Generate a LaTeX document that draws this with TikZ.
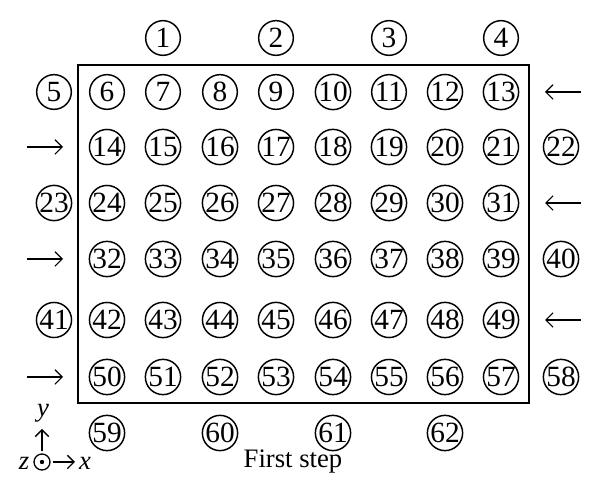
\documentclass[tikz,border=0pt]{standalone}
\usepackage{fontspec}
\setmainfont{Liberation Serif}
\usetikzlibrary{arrows.meta}

\tikzset{every picture/.style={line width=0.75pt}}
\tikzset{
  num/.style={draw, circle, line width=1.1pt, inner sep=0pt, minimum size=26pt, font=\fontsize{22}{22}\selectfont},
  flow/.style={line width=0.8pt, -{Straight Barb[length=5.5pt,width=11pt]}},
  axis/.style={line width=1pt, -{Straight Barb[length=5pt,width=10pt]}},
  lbl/.style={inner sep=0.75pt, font=\fontsize{20}{20}\selectfont}
}

\begin{document}
\begin{tikzpicture}[x=0.75pt,y=0.75pt,yscale=-1,xscale=1]
\useasboundingbox (0,0) rectangle (600,498);
%Shape: Rectangle [frame]
\draw [line width=1.3pt]  (78,65) -- (529,65) -- (529,403) -- (78,403) -- cycle ;

%Grid of points inside the frame
\foreach \y/\s [count=\r from 0] in {92/6,147/14,203/24,259/32,320/42,377/50} {
  \foreach \x [count=\c from 0] in {107,163,220,276,333,389,445,501} {
    \pgfmathtruncatemacro\k{\s+\c}
    \node [num] (n\k) at (\x,\y) {\k};
  }
}

%Points on the top side
\node [num] (n1) at (163,38) {1};
\node [num] (n2) at (276,38) {2};
\node [num] (n3) at (389,38) {3};
\node [num] (n4) at (501,38) {4};
%Points on the left side
\node [num] (n5) at (54,92) {5};
\node [num] (n23) at (54,203) {23};
\node [num] (n41) at (54,320) {41};
%Points on the right side
\node [num] (n22) at (561,147) {22};
\node [num] (n40) at (561,259) {40};
\node [num] (n58) at (561,377) {58};
%Points on the bottom side
\node [num] (n59) at (107,433) {59};
\node [num] (n60) at (220,433) {60};
\node [num] (n61) at (333,433) {61};
\node [num] (n62) at (445,433) {62};

%Straight Lines [sweep arrows, left]
\foreach \y [count=\i] in {147,259,377} {
  \coordinate (la\i) at (27,\y);
  \coordinate (lb\i) at (63,\y);
  \draw [flow] (la\i) -- (lb\i);
}
%Straight Lines [sweep arrows, right]
\foreach \y [count=\i] in {92,203,320} {
  \coordinate (ra\i) at (581,\y);
  \coordinate (rb\i) at (545,\y);
  \draw [flow] (ra\i) -- (rb\i);
}

%Axes
\coordinate (o) at (42,462);
\coordinate (oy) at (42,429);
\coordinate (ox) at (75,462);
\draw [line width=1pt] (o) circle [radius=8];
\fill (o) circle [radius=2.2];
\draw [axis] ([yshift=-8]o) -- (oy);
\draw [axis] ([xshift=8]o) -- (ox);

% Text Node
\node [lbl] (ylab) at (43,413) {\textit{y}};
% Text Node
\node [lbl] (xlab) at (85,463) {\textit{x}};
% Text Node
\node [lbl] (zlab) at (24,463) {\textit{z}};
% Text Node
\node [lbl] (cap) at (293,462) {First step};

\end{tikzpicture}
\end{document}
